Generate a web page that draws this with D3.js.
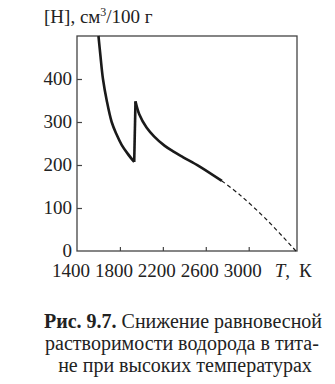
<!DOCTYPE html>
<html>
<head>
<meta charset="utf-8">
<script src="https://cdn.jsdelivr.net/npm/d3@7"></script>
<style>
  body { margin: 0; background: #fff; }
</style>
</head>
<body>
<div id="chart"></div>
<script>
// readings: temperature (K) and [H] (cm3/100 g)
const branch1T = [1600, 1620, 1642, 1677, 1723, 1767, 1816, 1870, 1933];
const branch1H = [500, 450, 400, 350, 300, 272, 247, 227, 207];
const jumpT = [1933, 1945];
const jumpH = [207, 348];
const branch2T = [1945, 1980, 2048, 2120, 2215, 2300, 2390, 2540, 2750];
const branch2H = [348, 318, 287, 266, 245, 231, 218, 197, 163];
const dashedT = [2750, 2920, 3170, 3440];
const dashedH = [163, 130, 72, 0];
const xTicks = [1800, 2200, 2600, 3000];
const xLabels = [1400, 1800, 2200, 2600, 3000];
const yTicks = [100, 200, 300, 400];
const yLabels = [0, 100, 200, 300, 400];
const captionLines = ["растворимости водорода в тита-", "не при высоких температурах"];

(function() {
  const W = 335, H = 384;
  const serif = "Liberation Serif";
  const margin = { top: 36, left: 77, right: 38, bottom: 133 },
        width = W - margin.left - margin.right,
        height = H - margin.top - margin.bottom;

  const svg = d3.select("#chart")
    .append("svg")
    .attr("width", W)
    .attr("height", H)
    .attr("font-family", serif);

  const g = svg.append("g")
    .attr("transform", `translate(${margin.left},${margin.top})`);

  const x = d3.scaleLinear().domain([1400, 3450]).range([0, width]);
  const y = d3.scaleLinear().domain([0, 500]).range([height, 0]);

  // frame
  g.append("rect")
    .attr("width", width)
    .attr("height", height)
    .attr("fill", "none")
    .attr("stroke", "#444")
    .attr("stroke-width", 1.3);

  // inward ticks, labels drawn by hand below
  const xAxis = g.append("g")
    .attr("transform", `translate(0,${height})`)
    .call(d3.axisTop(x).tickValues(xTicks).tickSize(4).tickFormat(""));
  xAxis.select(".domain").remove();
  xAxis.selectAll("line").attr("stroke", "#444").attr("stroke-width", 1.2);

  const yAxis = g.append("g")
    .call(d3.axisRight(y).tickValues(yTicks).tickSize(5).tickFormat(""));
  yAxis.select(".domain").remove();
  yAxis.selectAll("line").attr("stroke", "#444").attr("stroke-width", 1.2);

  g.selectAll(".xlab")
    .data(xLabels)
    .enter()
    .append("text")
    .attr("class", "xlab")
    .attr("x", d => x(d) - 6)
    .attr("y", height + 26)
    .attr("text-anchor", "middle")
    .attr("font-size", 19)
    .attr("font-family", serif)
    .attr("fill", "#222")
    .text(d => d);

  g.append("text")
    .attr("x", x(3000) + 26)
    .attr("y", height + 26)
    .attr("font-size", 19)
    .attr("font-family", serif)
    .attr("fill", "#222")
    .html('<tspan font-style="italic">T</tspan>,<tspan dx="9">К</tspan>');

  g.selectAll(".ylab")
    .data(yLabels)
    .enter()
    .append("text")
    .attr("class", "ylab")
    .attr("x", -5)
    .attr("y", d => y(d) + 6)
    .attr("text-anchor", "end")
    .attr("font-size", 19)
    .attr("font-family", serif)
    .attr("fill", "#222")
    .text(d => d);

  g.append("text")
    .attr("x", -33)
    .attr("y", -13)
    .attr("font-size", 19)
    .attr("font-family", serif)
    .attr("fill", "#222")
    .html('[H],  см<tspan dy="-7" font-size="12">3</tspan><tspan dy="7">/100 г</tspan>');

  const toPts = (ts, hs) => ts.map((t, i) => [x(t), y(hs[i])]);
  const curve = d3.line().curve(d3.curveCatmullRom.alpha(0.5));
  const straight = d3.line();

  g.append("path")
    .attr("d", curve(toPts(branch1T, branch1H)))
    .attr("fill", "none").attr("stroke", "#1a1a1a").attr("stroke-width", 2.6);
  g.append("path")
    .attr("d", straight(toPts(jumpT, jumpH)))
    .attr("fill", "none").attr("stroke", "#1a1a1a").attr("stroke-width", 2.6);
  g.append("path")
    .attr("d", curve(toPts(branch2T, branch2H)))
    .attr("fill", "none").attr("stroke", "#1a1a1a").attr("stroke-width", 2.6);
  g.append("path")
    .attr("d", curve(toPts(dashedT, dashedH)))
    .attr("fill", "none").attr("stroke", "#1a1a1a").attr("stroke-width", 1.2)
    .attr("stroke-dasharray", "4,3");

  // caption
  const cap = svg.append("g").attr("font-size", 20).attr("fill", "#222")
    .attr("font-family", serif)
    .attr("text-anchor", "middle");
  cap.append("text")
    .attr("x", 183)
    .attr("y", 328)
    .html('<tspan font-weight="bold">Рис. 9.7.</tspan> Снижение равновесной');
  cap.selectAll(".cl")
    .data(captionLines)
    .enter()
    .append("text")
    .attr("class", "cl")
    .attr("x", (d, i) => i === 0 ? 182 : 185)
    .attr("y", (d, i) => 350 + i * 22)
    .text(d => d);
})();
</script>
</body>
</html>
